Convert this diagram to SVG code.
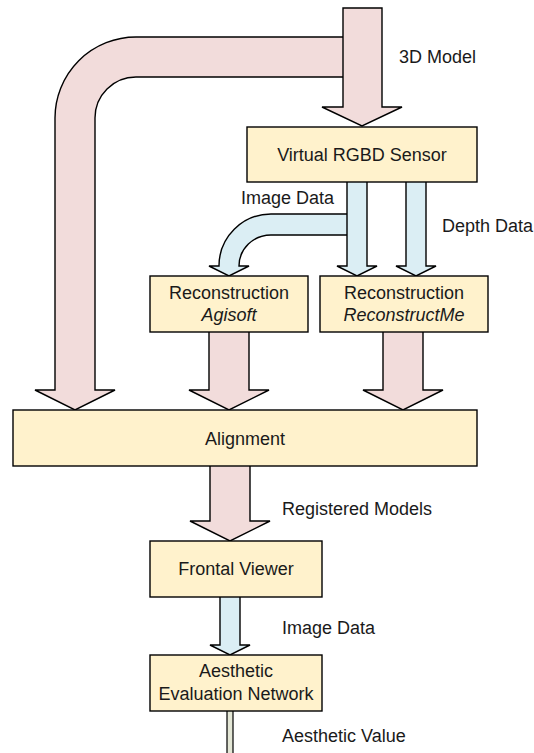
<svg xmlns="http://www.w3.org/2000/svg" width="534" height="753" viewBox="0 0 534 753">
  <style>
    .box { fill: #fff2cc; stroke: #000; stroke-width: 1.4; }
    .pink { fill: #f2dcdb; stroke: #000; stroke-width: 1.4; stroke-linejoin: miter; }
    .blue { fill: #dbeef4; stroke: #000; stroke-width: 1.4; stroke-linejoin: miter; }
    .thin { fill: #e4e7d6; stroke: #000; stroke-width: 1.2; }
    text { font-family: "Liberation Sans", Arial, sans-serif; font-size: 18px; fill: #1a1a1a; }
    .c { text-anchor: middle; }
    .i { font-style: italic; }
  </style>
  <rect width="534" height="753" fill="#fff"/>

  <g id="connectors">
    <!-- 3D model bypass around to Alignment -->
    <path class="pink" d="M343,37 H136 A81,81 0 0 0 55,118 V390 H35 L75,410 L115,390 H95 V118 A41,41 0 0 1 136,77 H343"/>
    <!-- 3D model into sensor -->
    <path class="pink" d="M343,8 H382 V107 H402 L362,126 L322,107 H343 Z"/>
    <!-- image data bend towards Agisoft -->
    <path class="blue" d="M347,214 H271 A52,52 0 0 0 219,266 H209 L229,276 L249,266 H239 A32,31 0 0 1 271,235 H347"/>
    <!-- image data straight down -->
    <path class="blue" d="M347,182 V266 H337 L357,276 L377,266 H367 V182"/>
    <!-- depth data -->
    <path class="blue" d="M406,182 V266 H396 L416,276 L436,266 H426 V182"/>
    <!-- reconstructions into Alignment -->
    <path class="pink" d="M209,332 V390 H189 L229,410 L269,390 H249 V332"/>
    <path class="pink" d="M383,332 V390 H363 L403,410 L443,390 H423 V332"/>
    <!-- registered models -->
    <path class="pink" d="M210,466 V521 H190 L230,541 L270,521 H250 V466"/>
    <!-- frontal image data -->
    <path class="blue" d="M220,597 V645 H210 L230,655 L250,645 H240 V597"/>
    <!-- aesthetic value output -->
    <rect class="thin" x="227" y="705" width="6" height="60"/>
  </g>

  <g id="virtual-sensor">
    <rect class="box" x="247" y="127" width="230" height="55"/>
    <text class="c" x="362" y="161">Virtual RGBD Sensor</text>
  </g>
  <g id="recon-agisoft">
    <rect class="box" x="150" y="276" width="158" height="56"/>
    <text class="c" x="229" y="299">Reconstruction</text>
    <text class="c i" x="229" y="321">Agisoft</text>
  </g>
  <g id="recon-reconstructme">
    <rect class="box" x="320" y="276" width="168" height="56"/>
    <text class="c" x="404" y="299">Reconstruction</text>
    <text class="c i" x="404" y="321">ReconstructMe</text>
  </g>
  <g id="alignment">
    <rect class="box" x="13" y="410" width="464" height="56"/>
    <text class="c" x="245" y="445">Alignment</text>
  </g>
  <g id="frontal-viewer">
    <rect class="box" x="150" y="541" width="172" height="56"/>
    <text class="c" x="236" y="575">Frontal Viewer</text>
  </g>
  <g id="aesthetic-network">
    <rect class="box" x="150" y="655" width="172" height="56"/>
    <text class="c" x="236" y="677">Aesthetic</text>
    <text class="c" x="236" y="700">Evaluation Network</text>
  </g>

  <g id="labels">
    <text x="399" y="63">3D Model</text>
    <text x="241" y="204">Image Data</text>
    <text x="442" y="232">Depth Data</text>
    <text x="282" y="515">Registered Models</text>
    <text x="282" y="634">Image Data</text>
    <text x="282" y="742">Aesthetic Value</text>
  </g>
</svg>
